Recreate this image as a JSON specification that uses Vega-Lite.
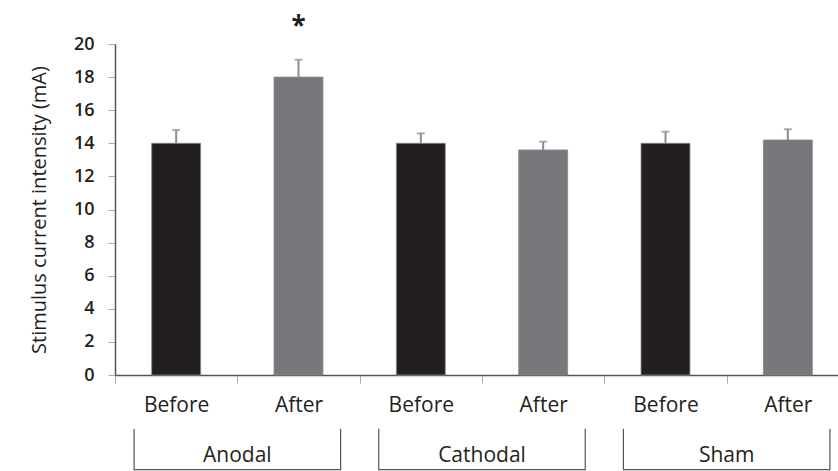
{
  "$schema": "https://vega.github.io/schema/vega-lite/v6.json",
  "width": 734,
  "height": 331,
  "autosize": {"type": "none"},
  "padding": {"left": 115, "top": 44, "right": 0, "bottom": 96},
  "background": "white",
  "config": {
    "view": {"stroke": null},
    "font": "Open Sans",
    "axisY": {
      "labelOverlap": false,
      "grid": false,
      "titleFontSize": 20,
      "titleFontWeight": "normal",
      "titleColor": "#231f20",
      "titlePadding": 24,
      "labelFontSize": 18,
      "labelFontWeight": 600,
      "labelColor": "#231f20",
      "labelPadding": 14,
      "tickSize": 7,
      "tickColor": "#aaa",
      "domainColor": "#555",
      "domainWidth": 1.5
    }
  },
  "layer": [
    {
      "data": {
        "values": [
          {"bar": "Anodal Before", "time": "Before", "value": 14.0, "upper": 14.8, "sig": ""},
          {"bar": "Anodal After", "time": "After", "value": 18.0, "upper": 19.05, "sig": "*"},
          {"bar": "Cathodal Before", "time": "Before", "value": 14.0, "upper": 14.6, "sig": ""},
          {"bar": "Cathodal After", "time": "After", "value": 13.6, "upper": 14.1, "sig": ""},
          {"bar": "Sham Before", "time": "Before", "value": 14.0, "upper": 14.7, "sig": ""},
          {"bar": "Sham After", "time": "After", "value": 14.2, "upper": 14.85, "sig": ""}
        ]
      },
      "encoding": {
        "x": {
          "field": "bar",
          "type": "nominal",
          "sort": ["Anodal Before", "Anodal After", "Cathodal Before", "Cathodal After", "Sham Before", "Sham After"],
          "scale": {"paddingInner": 0, "paddingOuter": 0},
          "axis": {
            "title": null,
            "labelAngle": 0,
            "tickBand": "extent",
            "labelExpr": "split(datum.label, ' ')[1]",
            "labelFontSize": 21,
            "labelFontWeight": 500,
            "labelColor": "#231f20",
            "labelPadding": 11,
            "tickSize": 8,
            "tickColor": "#aaa",
            "domainColor": "#555",
            "domainWidth": 1.5
          }
        }
      },
      "layer": [
        {
          "mark": {"type": "bar", "width": {"band": 0.4}, "stroke": "#888", "strokeWidth": 0.8},
          "encoding": {
            "y": {
              "field": "value",
              "type": "quantitative",
              "scale": {"domain": [0, 20]},
              "axis": {"values": [0, 2, 4, 6, 8, 10, 12, 14, 16, 18, 20], "title": "Stimulus current intensity  (mA)"}
            },
            "color": {
              "field": "time",
              "type": "nominal",
              "scale": {"domain": ["Before", "After"], "range": ["#231f20", "#77787b"]},
              "legend": null
            }
          }
        },
        {
          "mark": {"type": "rule", "color": "#8c8c8c", "strokeWidth": 2},
          "encoding": {
            "y": {"field": "value", "type": "quantitative", "axis": {"values": [0, 2, 4, 6, 8, 10, 12, 14, 16, 18, 20], "title": "Stimulus current intensity  (mA)"}},
            "y2": {"field": "upper"}
          }
        },
        {
          "mark": {"type": "tick", "color": "#8c8c8c", "size": 8, "thickness": 2, "orient": "horizontal"},
          "encoding": {
            "y": {"field": "upper", "type": "quantitative", "axis": {"values": [0, 2, 4, 6, 8, 10, 12, 14, 16, 18, 20], "title": "Stimulus current intensity  (mA)"}}
          }
        },
        {
          "mark": {"type": "text", "fontSize": 26, "fontWeight": "bold", "color": "#231f20", "dy": -33, "baseline": "middle"},
          "encoding": {
            "y": {"field": "upper", "type": "quantitative", "axis": {"values": [0, 2, 4, 6, 8, 10, 12, 14, 16, 18, 20], "title": "Stimulus current intensity  (mA)"}},
            "text": {"field": "sig"}
          }
        }
      ]
    },
    {
      "data": {"values": [{"group": "Anodal"}, {"group": "Cathodal"}, {"group": "Sham"}]},
      "encoding": {
        "x": {
          "field": "group",
          "type": "nominal",
          "sort": ["Anodal", "Cathodal", "Sham"],
          "scale": {"paddingInner": 0, "paddingOuter": 0},
          "axis": null
        }
      },
      "layer": [
        {
          "mark": {"type": "text", "fontSize": 21, "fontWeight": 500, "color": "#231f20", "baseline": "middle"},
          "encoding": {
            "y": {"datum": -4.9, "type": "quantitative", "axis": {"values": [0, 2, 4, 6, 8, 10, 12, 14, 16, 18, 20], "title": "Stimulus current intensity  (mA)"}},
            "text": {"field": "group"}
          }
        },
        {
          "mark": {"type": "rule", "color": "#555", "strokeWidth": 1.2},
          "encoding": {
            "x": {"field": "group", "type": "nominal", "sort": ["Anodal", "Cathodal", "Sham"], "bandPosition": 0.078},
            "y": {"datum": -3.25, "type": "quantitative", "axis": {"values": [0, 2, 4, 6, 8, 10, 12, 14, 16, 18, 20], "title": "Stimulus current intensity  (mA)"}},
            "y2": {"datum": -5.75}
          }
        },
        {
          "mark": {"type": "rule", "color": "#555", "strokeWidth": 1.2},
          "encoding": {
            "x": {"field": "group", "type": "nominal", "sort": ["Anodal", "Cathodal", "Sham"], "bandPosition": 0.922},
            "y": {"datum": -3.25, "type": "quantitative", "axis": {"values": [0, 2, 4, 6, 8, 10, 12, 14, 16, 18, 20], "title": "Stimulus current intensity  (mA)"}},
            "y2": {"datum": -5.75}
          }
        },
        {
          "mark": {"type": "bar", "color": "#555", "width": {"band": 0.844}},
          "encoding": {
            "y": {"datum": -5.68, "type": "quantitative", "axis": {"values": [0, 2, 4, 6, 8, 10, 12, 14, 16, 18, 20], "title": "Stimulus current intensity  (mA)"}},
            "y2": {"datum": -5.75}
          }
        }
      ]
    }
  ],
  "resolve": {"scale": {"x": "independent"}}
}
